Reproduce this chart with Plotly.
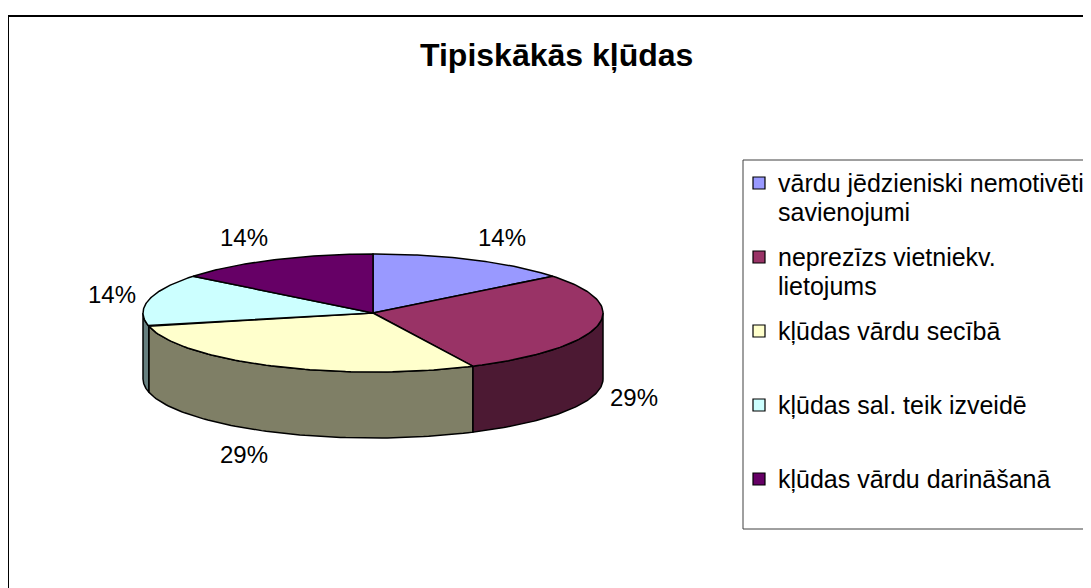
import numpy as np
import plotly.graph_objects as go

# ---- data ----
title_text = "Tipiskākās kļūdas"
categories = [
    "vārdu jēdzieniski nemotivēti\nsavienojumi",
    "neprezīzs vietniekv.\nlietojums",
    "kļūdas vārdu secībā",
    "kļūdas sal. teik izveidē",
    "kļūdas vārdu darināšanā",
]
values = [1, 2, 2, 1, 1]
colors = ["#9999FF", "#993366", "#FFFFCC", "#CCFFFF", "#660066"]

FONT = "Liberation Sans, Arial, sans-serif"

# ---- geometry of the 3D pie (page pixel space) ----
cx, cy, a, b, depth = 373, 313, 230, 59, 66
W, H = 1091, 588
PAGE_MARGIN = 8  # browser default body margin


def darken(hexc, f=0.5):
    hexc = hexc.lstrip("#")
    r, g, bb = (int(hexc[i:i + 2], 16) for i in (0, 2, 4))
    return "#%02X%02X%02X" % (int(r * f), int(g * f), int(bb * f))


def arc(t0, t1, dy=0.0, n=80):
    t = np.radians(np.linspace(t0, t1, n))
    return cx + a * np.sin(t), cy - b * np.cos(t) + dy


total = float(sum(values))
edges = np.concatenate([[0.0], np.cumsum(values) / total * 360.0])

fig = go.Figure()

# side faces (front half only)
for i, v in enumerate(values):
    s, e = edges[i], edges[i + 1]
    lo, hi = max(s, 90.0), min(e, 270.0)
    if lo < hi:
        xt, yt = arc(lo, hi)
        xb, yb = arc(hi, lo, dy=depth)
        xs = np.concatenate([xt, xb, xt[:1]])
        ys = np.concatenate([yt, yb, yt[:1]])
        fig.add_trace(go.Scatter(x=xs, y=ys, mode="lines", fill="toself",
                                 fillcolor=darken(colors[i]),
                                 line=dict(color="black", width=1.5),
                                 hoverinfo="skip", showlegend=False))

# top faces
for i, v in enumerate(values):
    s, e = edges[i], edges[i + 1]
    xt, yt = arc(s, e)
    xs = np.concatenate([[cx], xt, [cx]])
    ys = np.concatenate([[cy], yt, [cy]])
    fig.add_trace(go.Scatter(x=xs, y=ys, mode="lines", fill="toself",
                             fillcolor=colors[i],
                             line=dict(color="black", width=1.5),
                             hoverinfo="skip", showlegend=False))

annotations = []
# percent labels (placed outside the slice's mid-angle)
for i, v in enumerate(values):
    m = np.radians((edges[i] + edges[i + 1]) / 2)
    s_, c_ = np.sin(m), np.cos(m)
    lx = cx + 244 * s_ + 23 * np.sign(s_)
    ly = cy - 84 * c_ + (depth if c_ < 0 else 0)
    annotations.append(dict(x=lx, y=ly, xref="x", yref="y", showarrow=False,
                            text="%d%%" % round(v / total * 100),
                            font=dict(family=FONT, size=24, color="black"),
                            xanchor="center", yanchor="middle"))

# title
annotations.append(dict(x=556, y=55, xref="x", yref="y", showarrow=False,
                        text="<b>%s</b>" % title_text,
                        font=dict(family=FONT, size=32, color="black"),
                        xanchor="center", yanchor="middle"))

shapes = [
    # outer chart border
    dict(type="rect", xref="x", yref="y", x0=8, y0=16, x1=1120, y1=620,
         line=dict(color="black", width=2), fillcolor="rgba(0,0,0,0)", layer="below"),
    # legend box
    dict(type="rect", xref="x", yref="y", x0=743, y0=160, x1=1110, y1=529,
         line=dict(color="#404040", width=1), fillcolor="white", layer="below"),
]

# legend entries
leg_y0, leg_step, line_h = 183, 74, 29
for i, lab in enumerate(categories):
    yc = leg_y0 + i * leg_step
    shapes.append(dict(type="rect", xref="x", yref="y", x0=753, x1=765,
                       y0=yc - 6, y1=yc + 6, fillcolor=colors[i],
                       line=dict(color="black", width=1.2)))
    for j, ln in enumerate(lab.split("\n")):
        annotations.append(dict(x=776, y=yc + j * line_h, xref="x", yref="y",
                                showarrow=False, text=ln,
                                font=dict(family=FONT, size=25, color="black"),
                                xanchor="left", yanchor="middle"))

fig.update_layout(
    width=W - PAGE_MARGIN, height=H - PAGE_MARGIN,
    margin=dict(l=0, r=0, t=0, b=0),
    paper_bgcolor="white", plot_bgcolor="white",
    xaxis=dict(range=[PAGE_MARGIN, W], visible=False, fixedrange=True),
    yaxis=dict(range=[H, PAGE_MARGIN], visible=False, fixedrange=True),
    shapes=shapes, annotations=annotations, showlegend=False,
)

fig.write_html("out.html")
